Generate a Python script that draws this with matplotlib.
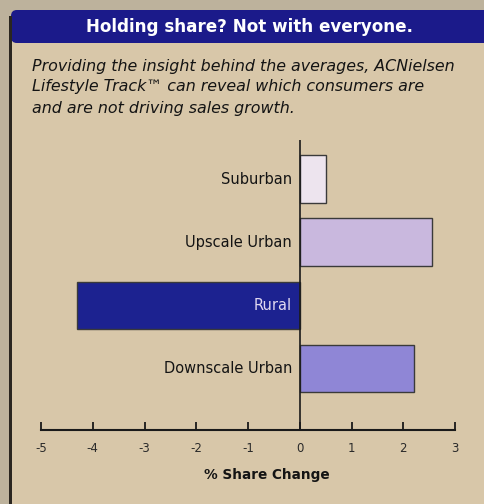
import matplotlib.pyplot as plt
from matplotlib.patches import FancyBboxPatch, Rectangle

plt.rcParams['axes.unicode_minus'] = False

categories = ["Downscale Urban", "Rural", "Upscale Urban", "Suburban"]
share_change = [2.2, -4.3, 2.55, 0.5]
bar_colors = ["#8f86d6", "#1c2290", "#c9b8de", "#ede4ee"]
xticks = [-5, -4, -3, -2, -1, 0, 1, 2, 3]

title = "Holding share? Not with everyone."
subtitle = ["Providing the insight behind the averages, ACNielsen",
            "Lifestyle Track\u2122 can reveal which consumers are",
            "and are not driving sales growth."]

W, H = 484, 504
fig = plt.figure(figsize=(W / 100, H / 100), dpi=100)
fig.patch.set_facecolor("#bdb29c")

def fx(px):
    return px / W

def fy(py):
    return 1 - py / H

# panel + banner
fig.patches.append(Rectangle((fx(10), 0), fx(W) - fx(10), fy(40), transform=fig.transFigure,
                             facecolor="#d8c7a9", edgecolor="none", zorder=-10))
fig.patches.append(FancyBboxPatch((fx(11), fy(43)), fx(490) - fx(11), fy(10) - fy(43),
                                  boxstyle="round,pad=0,rounding_size=0.012",
                                  transform=fig.transFigure, facecolor="#1b1a8a",
                                  edgecolor="none", zorder=-9))
fig.patches.append(Rectangle((fx(9), 0), fx(3), fy(16), transform=fig.transFigure,
                             facecolor="#2a2620", edgecolor="none", zorder=-8))

fig.text(fx(250), fy(27), title, color="white", fontsize=12.1, fontweight="bold",
         ha="center", va="center")
for i, line in enumerate(subtitle):
    fig.text(fx(32), fy(66 + 21 * i), line, fontsize=11.4, style="italic",
             color="#141414", ha="left", va="center")

ax = fig.add_axes([fx(41), fy(430), fx(455) - fx(41), fy(140) - fy(430)])
ax.set_facecolor("none")
ypos = list(range(len(categories)))
ax.barh(ypos, share_change, height=0.75, color=bar_colors, edgecolor="#3a3a3a", linewidth=1.0)
ax.set_xlim(-5, 3)
ax.set_ylim(-0.98, 3.62)
ax.axvline(0, color="#1a1a1a", linewidth=1.2)

for y, (cat, v) in enumerate(zip(categories, share_change)):
    c = "#e0d8f0" if v < 0 else "#141414"
    ax.text(-0.15, y, cat, ha="right", va="center", fontsize=10.5, color=c)

for s in ["top", "right", "left"]:
    ax.spines[s].set_visible(False)
ax.spines["bottom"].set_linewidth(1.5)
ax.spines["bottom"].set_color("#1a1a1a")
ax.set_yticks([])
ax.set_xticks(xticks)
ax.set_xticklabels([str(t) for t in xticks])
ax.tick_params(axis="x", direction="in", length=6, width=1.3, color="#1a1a1a",
               labelsize=8.5, labelcolor="#2a2a2a", pad=9)

fig.text(fx(267), fy(475), "% Share Change", fontsize=9.8, fontweight="bold",
         ha="center", va="center", color="#141414")

fig.savefig("out.png", dpi=100, facecolor=fig.get_facecolor())
